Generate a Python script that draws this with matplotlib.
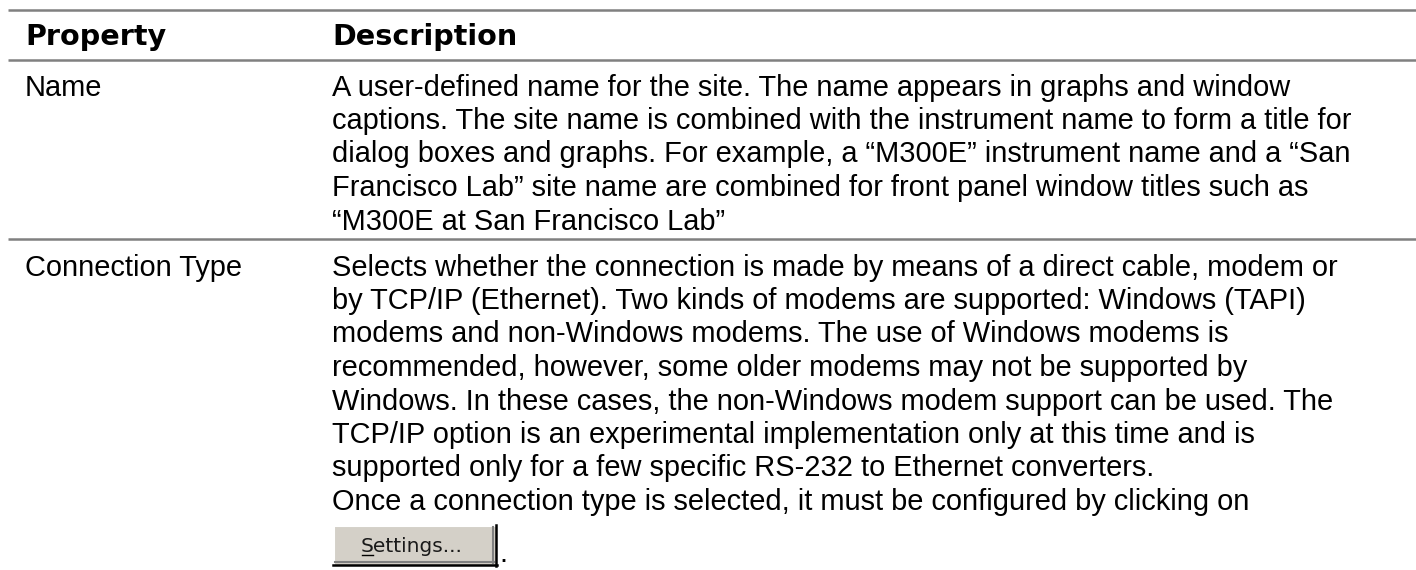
"""Property / Description table drawn with matplotlib."""
import matplotlib
matplotlib.use("Agg")
import matplotlib.pyplot as plt
from matplotlib.patches import Rectangle

# table contents
headers = ["Property", "Description"]
properties = ["Name", "Connection Type"]
descriptions = [
    [
        "A user-defined name for the site. The name appears in graphs and window",
        "captions. The site name is combined with the instrument name to form a title for",
        "dialog boxes and graphs. For example, a \u201cM300E\u201d instrument name and a \u201cSan",
        "Francisco Lab\u201d site name are combined for front panel window titles such as",
        "\u201cM300E at San Francisco Lab\u201d",
    ],
    [
        "Selects whether the connection is made by means of a direct cable, modem or",
        "by TCP/IP (Ethernet). Two kinds of modems are supported: Windows (TAPI)",
        "modems and non-Windows modems. The use of Windows modems is",
        "recommended, however, some older modems may not be supported by",
        "Windows. In these cases, the non-Windows modem support can be used. The",
        "TCP/IP option is an experimental implementation only at this time and is",
        "supported only for a few specific RS-232 to Ethernet converters.",
        "Once a connection type is selected, it must be configured by clicking on",
    ],
]
button_label = "Settings..."

# layout (pixels)
W, H = 1416, 570
COL1_X, COL2_X = 25, 332
LINE_H = 33.5
RULE_COLOR = "#808080"
BODY_FONT = dict(family="Liberation Sans", fontsize=20.9, color="black")
HEAD_FONT = dict(family="DejaVu Sans", fontsize=20.6, fontweight="bold", color="black")

fig = plt.figure(figsize=(W / 100, H / 100), dpi=100)
ax = fig.add_axes([0, 0, 1, 1])
ax.set_xlim(0, W)
ax.set_ylim(H, 0)
ax.axis("off")


def rule(y):
    ax.plot([8, W], [y, y], color=RULE_COLOR, linewidth=1.8, solid_capstyle="butt")


# header
rule(10)
ax.text(COL1_X, 45, headers[0], va="baseline", **HEAD_FONT)
ax.text(COL2_X, 45, headers[1], va="baseline", **HEAD_FONT)
rule(60)

# rows
row_first_baseline = [95.5, 275.5]
row_sep = [239]
for i, (prop, lines) in enumerate(zip(properties, descriptions)):
    y0 = row_first_baseline[i]
    ax.text(COL1_X, y0, prop, va="baseline", **BODY_FONT)
    for k, line in enumerate(lines):
        ax.text(COL2_X, y0 + k * LINE_H, line, va="baseline", **BODY_FONT)
    if i < len(row_sep):
        rule(row_sep[i])

# Windows-classic "Settings..." button
bx0, bx1, by0, by1 = 333, 497, 525, 566
ax.add_patch(Rectangle((bx0, by0), bx1 - bx0, by1 - by0, facecolor="#D4D0C8", edgecolor="none"))
ax.plot([bx0, bx1 - 2], [by0 + 1, by0 + 1], color="white", linewidth=1.5)
ax.plot([bx0 + 1, bx0 + 1], [by0, by1 - 2], color="white", linewidth=1.5)
ax.plot([bx0 + 2, bx1 - 3], [by1 - 4, by1 - 4], color="#808080", linewidth=1.5)
ax.plot([bx1 - 4, bx1 - 4], [by0 + 2, by1 - 3], color="#808080", linewidth=1.5)
ax.plot([bx0, bx1], [by1 - 1, by1 - 1], color="black", linewidth=1.8)
ax.plot([bx1 - 1, bx1 - 1], [by0, by1], color="black", linewidth=1.8)

btn_font = dict(family="DejaVu Sans", fontsize=14.5, color="#1a1a1a")
tx = (bx0 + bx1) / 2 - 3
ty = (by0 + by1) / 2 + 6
btn_text = ax.text(tx, ty, button_label, ha="center", va="baseline", **btn_font)

# underline the access key "S"
fig.canvas.draw()
renderer = fig.canvas.get_renderer()
full = btn_text.get_window_extent(renderer)
s_probe = ax.text(0, 0, button_label[0], **btn_font)
s_ext = s_probe.get_window_extent(renderer)
s_probe.remove()
inv = ax.transData.inverted()
(sx0, _), (sx1, _) = inv.transform([(full.x0, 0), (full.x0 + s_ext.width, 0)])
ax.plot([sx0 + 1, sx1 - 1], [ty + 3, ty + 3], color="black", linewidth=1)

ax.text(bx1 + 2, 562, ".", va="baseline", **BODY_FONT)

fig.savefig("out.png", dpi=100)
